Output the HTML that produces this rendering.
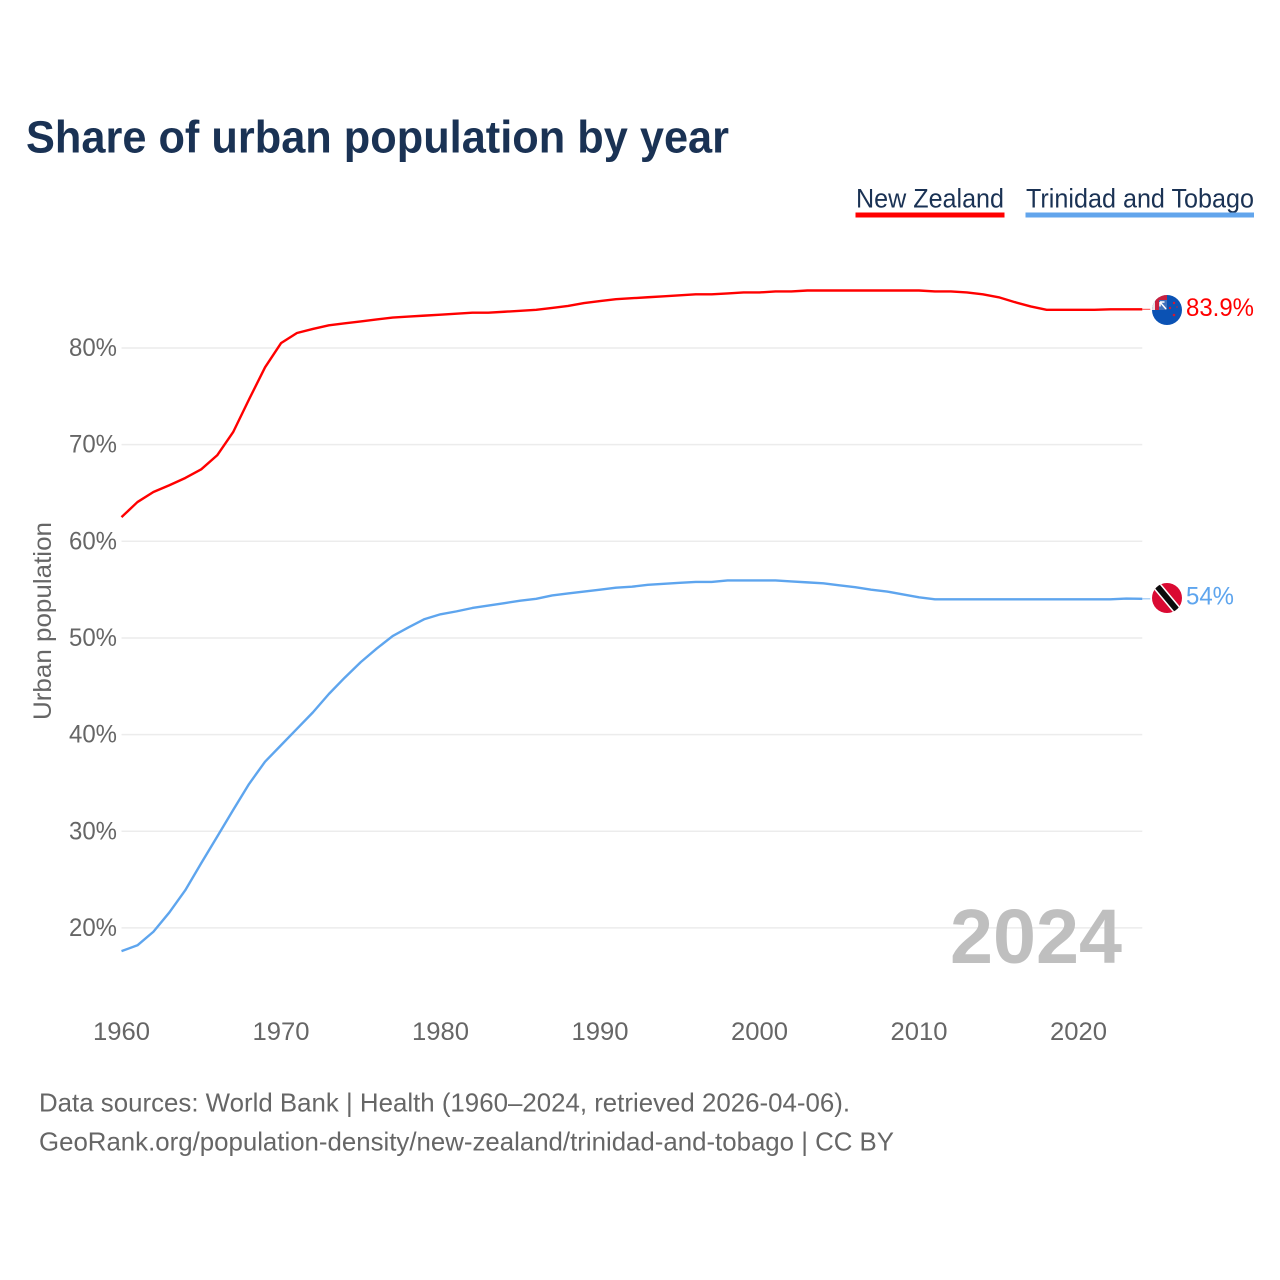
<!DOCTYPE html>
<html lang="en">
<head>
<meta charset="utf-8">
<title>Share of urban population by year</title>
<style>
html,body{margin:0;padding:0;background:#fff;width:1280px;height:1280px;overflow:hidden}
svg{display:block}
text{font-family:"Liberation Sans",sans-serif}
</style>
</head>
<body>
<svg id="chart" width="1280" height="1280" viewBox="0 0 1280 1280" xmlns="http://www.w3.org/2000/svg">
  <defs>
    <clipPath id="clip-nz"><circle cx="1167" cy="310" r="15"/></clipPath>
    <clipPath id="clip-tt"><circle cx="1167" cy="598" r="15"/></clipPath>
  </defs>
  <text x="26" y="152.5" font-size="45" font-weight="700" fill="#1a3254" textLength="703" lengthAdjust="spacingAndGlyphs">Share of urban population by year</text>

  <text x="856" y="207.5" font-size="27" fill="#1a3254" textLength="148" lengthAdjust="spacingAndGlyphs">New Zealand</text>
  <rect x="855.5" y="212.5" width="149" height="5" fill="#ff0000"/>
  <text x="1026" y="207.5" font-size="27" fill="#1a3254" textLength="228" lengthAdjust="spacingAndGlyphs">Trinidad and Tobago</text>
  <rect x="1025.5" y="212.5" width="228.5" height="5" fill="#62a5ec"/>

  <g id="grid"></g>
  <g id="y-axis"></g>
  <g id="x-axis"></g>
  <text transform="translate(51,720) rotate(-90)" font-size="25" fill="#666666" textLength="198" lengthAdjust="spacingAndGlyphs">Urban population</text>

  <text x="1122" y="963" text-anchor="end" font-size="77" font-weight="700" fill="#bfbfbf" textLength="172" lengthAdjust="spacingAndGlyphs">2024</text>

  <g id="series"></g>

  <g clip-path="url(#clip-nz)">
    <rect x="1152" y="295" width="30" height="30" fill="#0b52b4"/>
    <rect x="1152" y="295" width="15" height="15" fill="#e9e3e6"/>
    <rect x="1152" y="295" width="15" height="5" fill="#c8203f"/>
    <rect x="1155" y="295" width="4" height="15" fill="#c8203f"/>
    <rect x="1159" y="300" width="8" height="10" fill="#3f70ba"/>
    <path d="M1160 302 L1166 309 M1160 302 L1164.5 302 M1160 302 L1160 306.5" stroke="#ffffff" stroke-width="1.5" fill="none"/>
    <circle cx="1174" cy="303" r="1.2" fill="#d8182f"/>
    <circle cx="1170" cy="308" r="1.2" fill="#d8182f"/>
    <circle cx="1177" cy="307" r="0.8" fill="#d8182f"/>
    <circle cx="1174" cy="315" r="1.3" fill="#d8182f"/>
  </g>
  <g clip-path="url(#clip-tt)">
    <rect x="1152" y="583" width="30" height="30" fill="#da0a32"/>
    <path d="M1157 586 L1177 610" stroke="#ffffff" stroke-width="9"/>
    <path d="M1157 586 L1177 610" stroke="#0c0c0c" stroke-width="6"/>
  </g>

  <g id="value-labels"></g>

  <text x="39" y="1111.5" font-size="26" fill="#666666" textLength="811" lengthAdjust="spacingAndGlyphs">Data sources: World Bank | Health (1960–2024, retrieved 2026-04-06).</text>
  <text x="39" y="1150.5" font-size="26" fill="#666666" textLength="855" lengthAdjust="spacingAndGlyphs">GeoRank.org/population-density/new-zealand/trinidad-and-tobago | CC BY</text>
</svg>
<script>
const firstYear = 1960;
const xTickYears = [1960, 1970, 1980, 1990, 2000, 2010, 2020];
const yTickValues = [20, 30, 40, 50, 60, 70, 80];
const newZealandValues = [
  62.5, 64.06, 65.1, 65.8, 66.55, 67.45, 68.9, 71.3, 74.7, 78.0,
  80.5, 81.55, 81.97, 82.35, 82.55, 82.75, 82.95, 83.15, 83.25, 83.35,
  83.45, 83.55, 83.65, 83.65, 83.75, 83.85, 83.95, 84.15, 84.35, 84.65,
  84.85, 85.05, 85.15, 85.25, 85.35, 85.45, 85.55, 85.55, 85.65, 85.75,
  85.75, 85.85, 85.85, 85.95, 85.95, 85.95, 85.95, 85.95, 85.95, 85.95,
  85.95, 85.85, 85.85, 85.75, 85.55, 85.25, 84.75, 84.3, 83.95, 83.95,
  83.95, 83.95, 84.0, 84.0, 84.0
];
const trinidadValues = [
  17.6, 18.2, 19.6, 21.6, 23.9, 26.7, 29.45, 32.2, 34.9, 37.2,
  38.9, 40.6, 42.3, 44.2, 45.9, 47.5, 48.9, 50.2, 51.1, 51.95,
  52.45, 52.75, 53.1, 53.35, 53.6, 53.85, 54.05, 54.4, 54.6, 54.8,
  55.0, 55.2, 55.3, 55.5, 55.6, 55.7, 55.8, 55.8, 55.95, 55.95,
  55.95, 55.95, 55.85, 55.75, 55.65, 55.45, 55.25, 55.0, 54.8, 54.5,
  54.2, 54.0, 54.0, 54.0, 54.0, 54.0, 54.0, 54.0, 54.0, 54.0,
  54.0, 54.0, 54.0, 54.07, 54.05
];
const endLabelNewZealand = "83.9%";
const endLabelTrinidad = "54%";

const NS = "http://www.w3.org/2000/svg";
function xScale(year) { return 121.5 + (year - 1960) * 15.95; }
function yScale(value) { return 348 + (80 - value) * 9.665; }
function make(tag, parent, attrs) {
  const el = document.createElementNS(NS, tag);
  for (const k in attrs) el.setAttribute(k, attrs[k]);
  parent.appendChild(el);
  return el;
}
function seriesPath(values) {
  return values.map(function (v, i) {
    return (i ? "L" : "M") + xScale(firstYear + i).toFixed(2) + " " + yScale(v).toFixed(2);
  }).join(" ");
}

const grid = document.getElementById("grid");
const yAxis = document.getElementById("y-axis");
yTickValues.forEach(function (v) {
  const line = make("line", grid, { x1: xScale(1960), x2: xScale(2024), y1: yScale(v), y2: yScale(v), stroke: "#ececec", "stroke-width": 1.5 });
  
  
  const label = make("text", yAxis, { x: 117, y: yScale(v) + 8, "text-anchor": "end", "font-size": 25, fill: "#666666", textLength: 48, lengthAdjust: "spacingAndGlyphs" });
  
  
  label.textContent = v + "%";
});

const xAxis = document.getElementById("x-axis");
xTickYears.forEach(function (year) {
  const label = make("text", xAxis, { x: xScale(year), y: 1040, "text-anchor": "middle", "font-size": 25, fill: "#666666", textLength: 57, lengthAdjust: "spacingAndGlyphs" });
  
  
  label.textContent = year;
});

const seriesGroup = document.getElementById("series");
function drawSeries(values, color, name) {
  const last = values[values.length - 1];
  const lastX = xScale(firstYear + values.length - 1);
  const leader = make("line", seriesGroup, { x1: lastX, x2: lastX + 8, y1: yScale(last), y2: yScale(last), stroke: color, "stroke-width": 1.2, opacity: 0.6 });
  
  
  const path = make("path", seriesGroup, { d: seriesPath(values), fill: "none", stroke: color, "stroke-width": 2.4, "stroke-linejoin": "round" });
  
  
}
drawSeries(newZealandValues, "#ff0000", "line-new-zealand");
drawSeries(trinidadValues, "#5ea5ee", "line-trinidad-and-tobago");

const valueLabels = document.getElementById("value-labels");
const nzLabel = make("text", valueLabels, { x: 1186, y: yScale(newZealandValues[64]) + 6.5, "font-size": 25, fill: "#ff0000", textLength: 68, lengthAdjust: "spacingAndGlyphs" });


nzLabel.textContent = endLabelNewZealand;
const ttLabel = make("text", valueLabels, { x: 1186, y: yScale(trinidadValues[64]) + 5.5, "font-size": 25, fill: "#5ea5ee", textLength: 48, lengthAdjust: "spacingAndGlyphs" });


ttLabel.textContent = endLabelTrinidad;
</script>
</body>
</html>
